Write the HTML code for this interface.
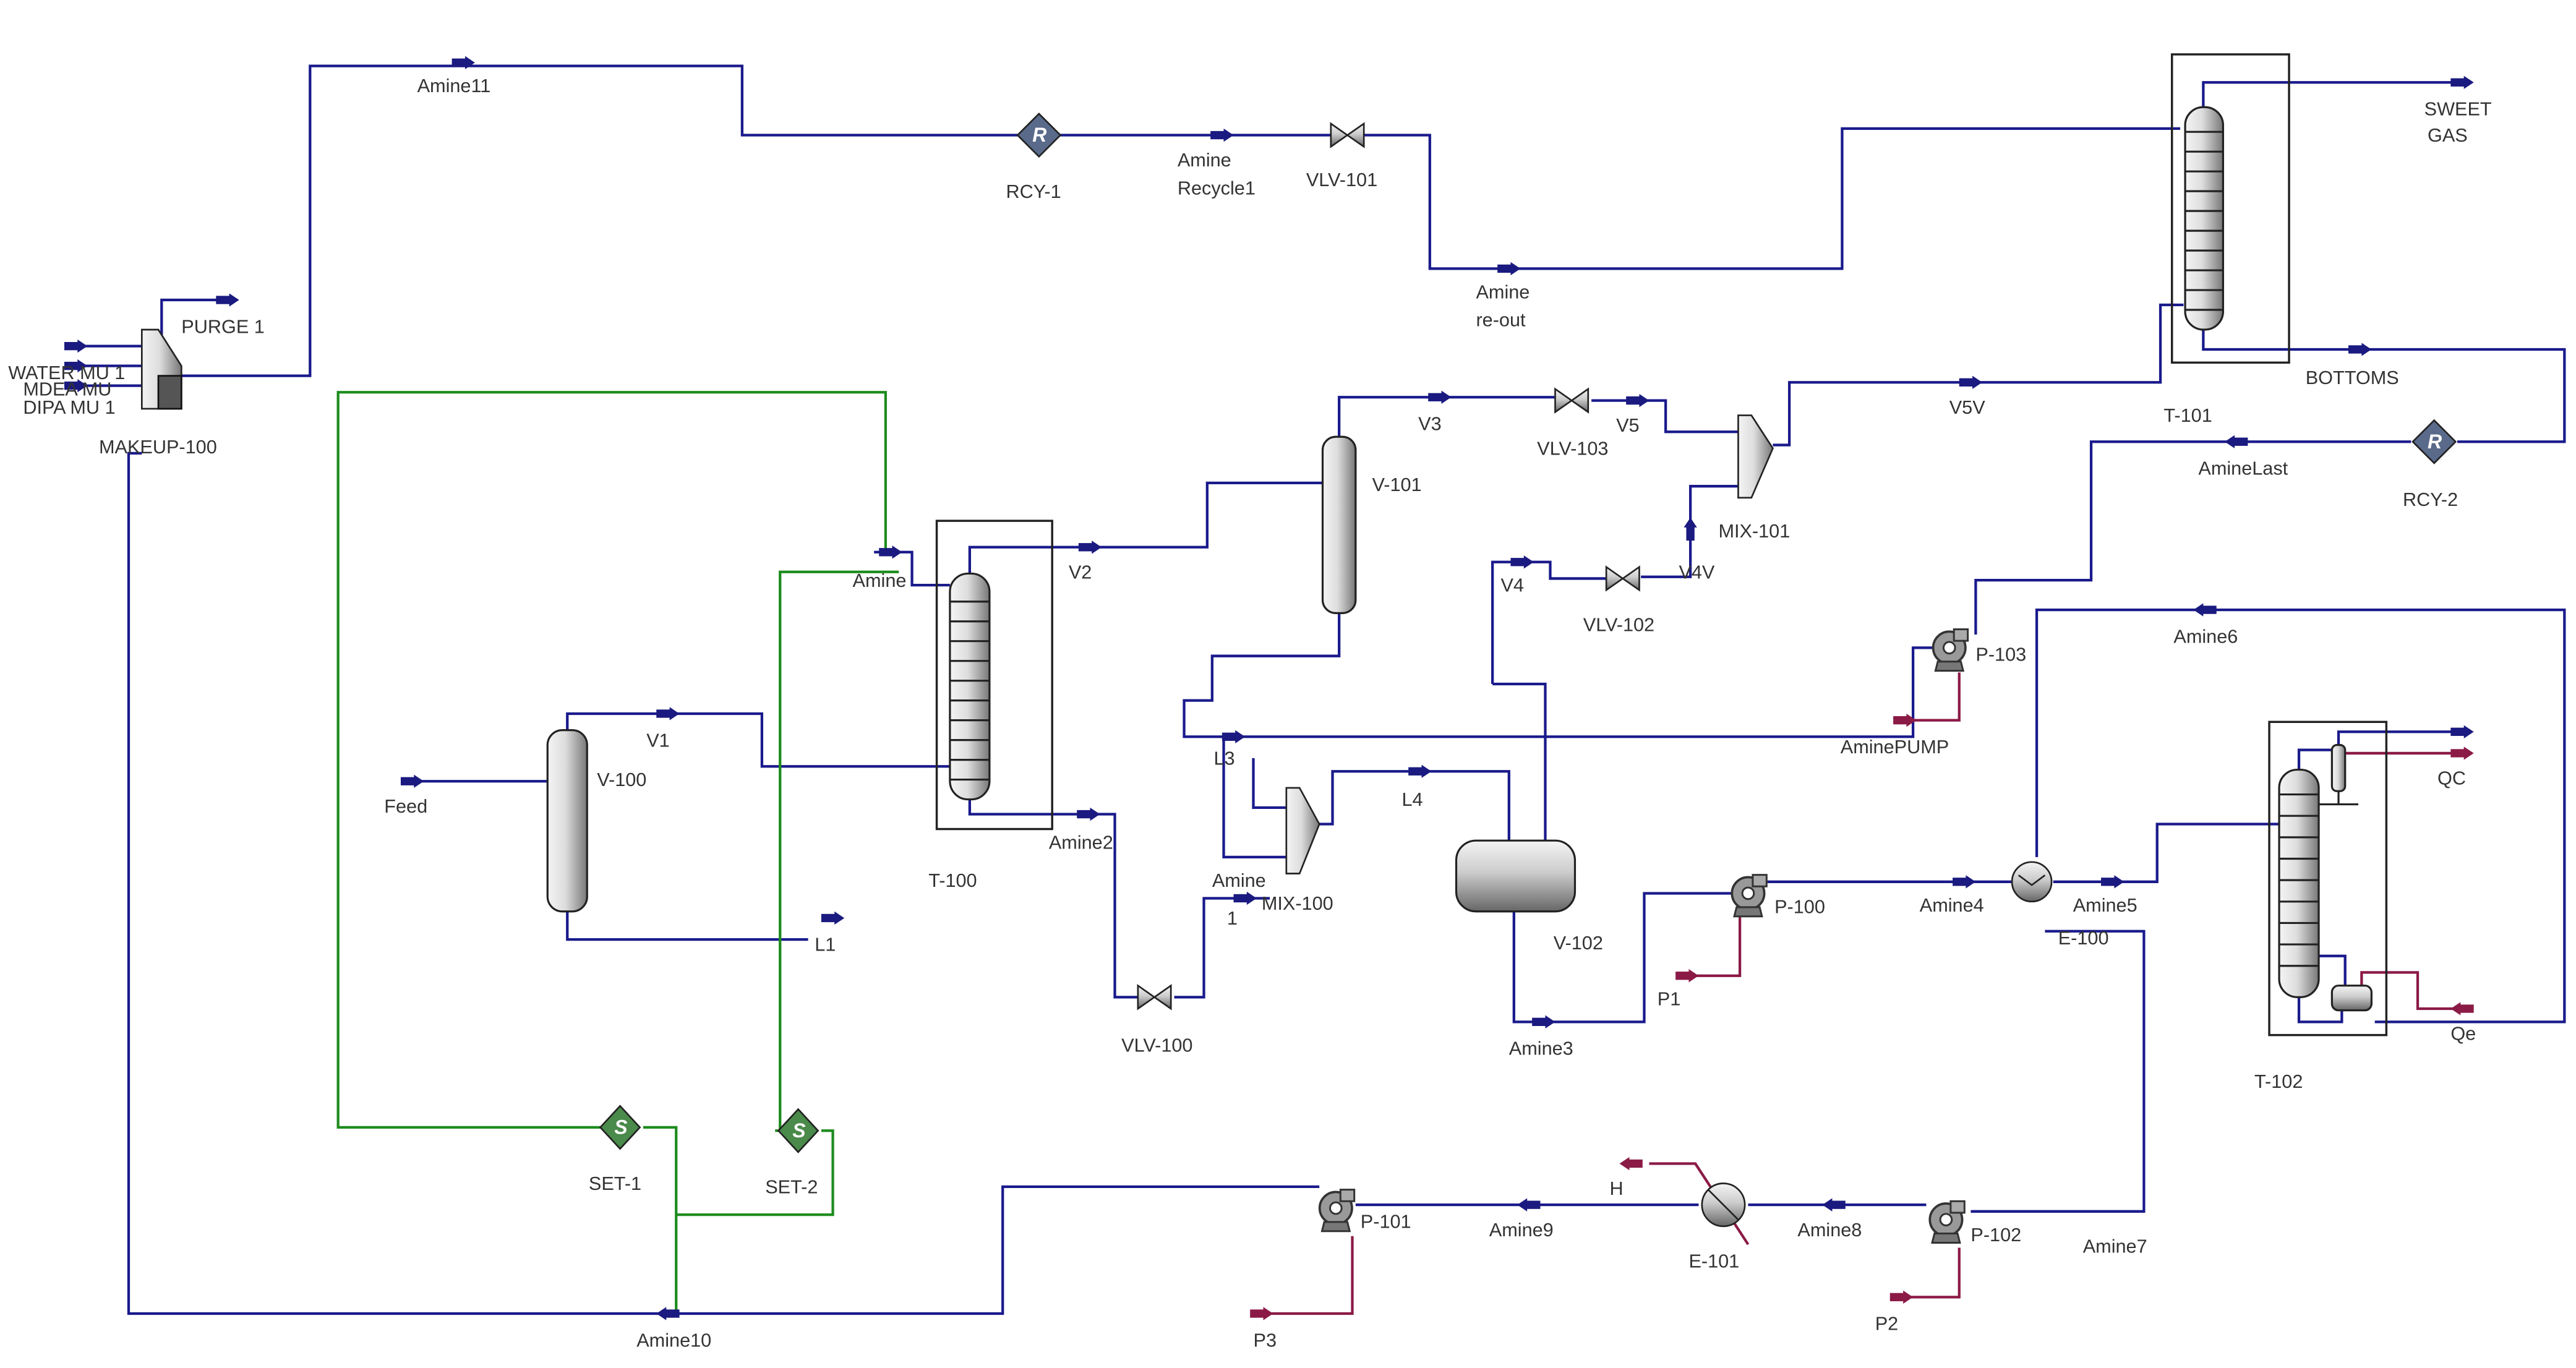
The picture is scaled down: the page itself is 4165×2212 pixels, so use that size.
<!DOCTYPE html>
<html><head><meta charset="utf-8"><style>
html,body{margin:0;padding:0;background:#fff;}
svg{display:block;}
text{font-family:"Liberation Sans",sans-serif;font-size:11.5px;fill:#333;}
</style></head><body>
<svg width="4165" height="2212" viewBox="0 0 1562 830" preserveAspectRatio="none" xmlns="http://www.w3.org/2000/svg">
<defs>
<linearGradient id="cg" x1="0" x2="1" y1="0" y2="0"><stop offset="0" stop-color="#f4f4f4"/><stop offset="0.45" stop-color="#ddd"/><stop offset="1" stop-color="#777"/></linearGradient>
<linearGradient id="hg" x1="0" x2="0" y1="0" y2="1"><stop offset="0" stop-color="#f4f4f4"/><stop offset="0.45" stop-color="#ccc"/><stop offset="1" stop-color="#666"/></linearGradient>
<g id="ar"><rect x="-8" y="-2.5" width="9" height="5" fill="#1a1a80"/><path d="M0,-4 L6,0 L0,4Z" fill="#1a1a80"/></g>
<g id="arm"><rect x="-8" y="-2.5" width="9" height="5" fill="#8b1a46"/><path d="M0,-4 L6,0 L0,4Z" fill="#8b1a46"/></g>
<g id="vlv"><path d="M-10,-7 L10,7 L10,-7 L-10,7Z" fill="url(#hg)" stroke="#222" stroke-width="1"/></g>
<g id="pump"><g transform="scale(1.4)"><circle r="7" fill="#999" stroke="#333"/><circle r="2.5" fill="#fff" stroke="#333" stroke-width="0.8"/><rect x="2" y="-8" width="6" height="5" fill="#aaa" stroke="#333" stroke-width="0.8"/><path d="M-5,6 L5,6 L6,10 L-6,10Z" fill="#777" stroke="#333" stroke-width="0.8"/></g></g>
<g id="rcy"><path d="M0,-13 L13,0 L0,13 L-13,0Z" fill="#5a6a8a" stroke="#222"/><text x="-4" y="4" style="font-style:italic;font-weight:bold;fill:#fff;font-size:12px">R</text></g>
<g id="set"><path d="M0,-13 L12,0 L0,13 L-12,0Z" fill="#4a8a4a" stroke="#222"/><text x="-3.5" y="4" style="font-style:italic;font-weight:bold;fill:#fff;font-size:12px">S</text></g>
</defs>

<g fill="none" stroke="#1a1a8c" stroke-width="1.6">
<polyline points="110,228 188,228 188,40 450,40 450,82 617,82"/>
<polyline points="643,82 807,82"/>
<polyline points="827,82 867,82 867,163 1117,163 1117,78 1322,78"/>
<polyline points="1336,66 1336,50 1488,50"/>
<polyline points="1336,200 1336,212 1555,212 1555,268 1490,268"/>
<polyline points="1462,268 1268,268 1268,352 1198,352 1198,385"/>
<polyline points="1075,270 1085,270 1085,232 1310,232 1310,185 1324,185"/>
<polyline points="812,265 812,241 943,241"/>
<polyline points="965,243 1010,243 1010,262 1054,262"/>
<polyline points="905,415 905,341 940,341 940,351 974,351"/>
<polyline points="995,350 1025,350 1025,295 1054,295"/>
<polyline points="905,415 937,415 937,510"/>
<polyline points="530,335 553,335 553,355 576,355"/>
<polyline points="588,348 588,332 732,332 732,293 802,293"/>
<polyline points="588,485 588,494 676,494 676,605 690,605"/>
<polyline points="712,605 730,605 730,545 770,545"/>
<polyline points="812,372 812,398 735,398 735,425 718,425 718,447 1160,447 1160,393 1172,393"/>
<polyline points="742,447 742,520 780,520"/>
<polyline points="760,460 760,490 780,490"/>
<polyline points="800,500 808,500 808,468 915,468 915,510"/>
<polyline points="918,553 918,620 997,620 997,542 1050,542"/>
<polyline points="1068,535 1220,535"/>
<polyline points="1245,535 1308,535 1308,500 1383,500"/>
<polyline points="1440,620 1555,620 1555,370 1235,370 1235,520"/>
<polyline points="1240,565 1300,565 1300,735 1195,735"/>
<polyline points="1168,731 1060,731"/>
<polyline points="1030,731 822,731"/>
<polyline points="800,720 608,720 608,797 78,797 78,275 86,275"/>
<polyline points="98,210 98,182 135,182"/>
<polyline points="247,474 332,474"/>
<polyline points="344,443 344,433 462,433 462,465 576,465"/>
<polyline points="344,553 344,570 490,570"/>
<polyline points="1394,467 1394,455 1414,455"/>
<polyline points="1418,452 1418,444 1490,444"/>
<polyline points="1406,580 1422,580 1422,598"/>
<polyline points="1394,605 1394,620 1420,620 1420,608"/>
<polyline points="40,210 86,210"/><polyline points="40,222 86,222"/><polyline points="40,234 86,234"/>
</g>
<g fill="none" stroke="#8b1a46" stroke-width="1.6">
<polyline points="1422,457 1490,457"/>
<polyline points="1432,600 1432,590 1466,590 1466,612 1490,612"/>
<polyline points="1150,437 1188,437 1188,408"/>
<polyline points="1018,592 1055,592 1055,555"/>
<polyline points="1148,787 1188,787 1188,757"/>
<polyline points="760,797 820,797 820,750"/>
<polyline points="1000,706 1028,706 1060,755"/>
</g>
<g fill="none" stroke="#1e8c1e" stroke-width="1.6">
<polyline points="537,335 537,238 205,238 205,684 365,684"/>
<polyline points="390,684 410,684 410,797"/>
<polyline points="545,347 473,347 473,686 470,686"/>
<polyline points="498,686 505,686 505,737 410,737"/>
</g>

<use href="#ar" x="282" y="38"/><use href="#ar" x="742" y="82"/><use href="#ar" x="916" y="163"/>
<use href="#ar" x="1494" y="50"/><use href="#ar" x="1432" y="212"/><use href="#ar" x="1196" y="232"/>
<use href="#ar" x="139" y="182"/><use href="#ar" x="874" y="241"/><use href="#ar" x="994" y="243"/>
<use href="#ar" x="924" y="341"/><use href="#ar" x="541" y="335"/><use href="#ar" x="662" y="332"/>
<use href="#ar" x="661" y="494"/><use href="#ar" x="749" y="447"/><use href="#ar" x="862" y="468"/>
<use href="#ar" x="756" y="545"/><use href="#ar" x="937" y="620"/><use href="#ar" x="1192" y="535"/>
<use href="#ar" x="1282" y="535"/><use href="#ar" x="1494" y="444"/><use href="#ar" x="251" y="474"/>
<use href="#ar" x="406" y="433"/><use href="#ar" x="506" y="557"/><use href="#ar" x="47" y="210"/>
<use href="#ar" x="47" y="222"/><use href="#ar" x="47" y="234"/>
<use href="#ar" x="0" y="0" transform="translate(1355,268) scale(-1,1)"/>
<use href="#ar" x="0" y="0" transform="translate(1336,370) scale(-1,1)"/>
<use href="#ar" x="0" y="0" transform="translate(1111,731) scale(-1,1)"/>
<use href="#ar" x="0" y="0" transform="translate(926,731) scale(-1,1)"/>
<use href="#ar" x="0" y="0" transform="translate(404,797) scale(-1,1)"/>
<use href="#ar" x="0" y="0" transform="translate(1025,320) rotate(-90)"/>
<use href="#arm" x="1156" y="437"/><use href="#arm" x="1024" y="592"/><use href="#arm" x="1154" y="787"/>
<use href="#arm" x="766" y="797"/><use href="#arm" x="1494" y="457"/>
<use href="#arm" x="0" y="0" transform="translate(988,706) scale(-1,1)"/>
<use href="#arm" x="0" y="0" transform="translate(1492,612) scale(-1,1)"/>

<rect x="1317" y="33" width="71" height="187" fill="none" stroke="#222" stroke-width="1.3"/>
<rect x="568" y="316" width="70" height="187" fill="none" stroke="#222" stroke-width="1.3"/>
<rect x="1376" y="438" width="71" height="190" fill="none" stroke="#222" stroke-width="1.3"/>

<g stroke="#222" stroke-width="1.2">
<rect x="1325" y="65" width="23" height="135" rx="11" fill="url(#cg)"/>
<rect x="576" y="348" width="24" height="137" rx="11" fill="url(#cg)"/>
<rect x="1382" y="467" width="24" height="138" rx="11" fill="url(#cg)"/>
<rect x="802" y="265" width="20" height="107" rx="8" fill="url(#cg)"/>
<rect x="332" y="443" width="24" height="110" rx="9" fill="url(#cg)"/>
<rect x="883" y="510" width="72" height="43" rx="12" fill="url(#hg)"/>
<rect x="1414" y="452" width="8" height="28" rx="3" fill="url(#cg)"/>
<rect x="1414" y="598" width="24" height="15" rx="4" fill="url(#hg)"/>
<path d="M1406,488 L1430,488 M1418,480 L1418,488" fill="none"/>
</g>
<g stroke="#222" stroke-width="1.2">
<path d="M1325,80 h23 M1325,92 h23 M1325,104 h23 M1325,116 h23 M1325,128 h23 M1325,140 h23 M1325,152 h23 M1325,164 h23 M1325,176 h23 M1325,188 h23"/>
<path d="M576,365 h24 M576,377 h24 M576,389 h24 M576,401 h24 M576,413 h24 M576,425 h24 M576,437 h24 M576,449 h24 M576,461 h24 M576,473 h24"/>
<path d="M1382,482 h24 M1382,495 h24 M1382,508 h24 M1382,521 h24 M1382,534 h24 M1382,547 h24 M1382,560 h24 M1382,573 h24 M1382,586 h24"/>
</g>
<path d="M86,200 L96,200 L110,222 L110,248 L86,248Z" fill="url(#cg)" stroke="#222"/>
<rect x="96" y="228" width="14" height="20" fill="#555" stroke="#111"/>
<path d="M780,478 L788,478 L800,500 L788,530 L780,530Z" fill="url(#cg)" stroke="#222"/>
<path d="M1054,252 L1062,252 L1075,272 L1062,302 L1054,302Z" fill="url(#cg)" stroke="#222"/>
<use href="#vlv" x="817" y="82"/><use href="#vlv" x="953" y="243"/><use href="#vlv" x="984" y="351"/><use href="#vlv" x="700" y="605"/>
<use href="#pump" x="1182" y="393"/><use href="#pump" x="1060" y="542"/><use href="#pump" x="1180" y="740"/><use href="#pump" x="810" y="733"/>
<use href="#rcy" x="630" y="82"/><use href="#rcy" x="1476" y="268"/>
<use href="#set" x="376" y="684"/><use href="#set" x="484" y="686"/>
<circle cx="1232" cy="535" r="12" fill="url(#hg)" stroke="#222"/><path d="M1224,531 l8,6 l8,-6" fill="none" stroke="#222"/>
<circle cx="1045" cy="731" r="13" fill="url(#hg)" stroke="#222"/><path d="M1036,722 L1054,740" stroke="#222"/>

<text x="253" y="56">Amine11</text>
<text x="610" y="120">RCY-1</text>
<text x="714" y="101">Amine</text><text x="714" y="118">Recycle1</text>
<text x="792" y="113">VLV-101</text>
<text x="895" y="181">Amine</text><text x="895" y="198">re-out</text>
<text x="1470" y="70">SWEET</text><text x="1472" y="86">GAS</text>
<text x="1312" y="256">T-101</text>
<text x="1398" y="233">BOTTOMS</text>
<text x="1333" y="288">AmineLast</text>
<text x="1457" y="307">RCY-2</text>
<text x="1182" y="251">V5V</text>
<text x="110" y="202">PURGE 1</text>
<text x="5" y="230">WATER MU 1</text><text x="14" y="240">MDEA MU</text><text x="14" y="251">DIPA MU 1</text>
<text x="60" y="275">MAKEUP-100</text>
<text x="860" y="261">V3</text><text x="932" y="276">VLV-103</text><text x="980" y="262">V5</text>
<text x="832" y="298">V-101</text>
<text x="1042" y="326">MIX-101</text>
<text x="910" y="359">V4</text><text x="960" y="383">VLV-102</text><text x="1018" y="351">V4V</text>
<text x="517" y="356">Amine</text>
<text x="648" y="351">V2</text>
<text x="1198" y="401">P-103</text>
<text x="1318" y="390">Amine6</text>
<text x="1116" y="457">AminePUMP</text>
<text x="736" y="464">L3</text>
<text x="392" y="453">V1</text><text x="362" y="477">V-100</text>
<text x="233" y="493">Feed</text>
<text x="850" y="489">L4</text>
<text x="636" y="515">Amine2</text>
<text x="735" y="538">Amine</text><text x="744" y="561">1</text>
<text x="765" y="552">MIX-100</text>
<text x="563" y="538">T-100</text>
<text x="494" y="577">L1</text>
<text x="942" y="576">V-102</text>
<text x="1076" y="554">P-100</text>
<text x="1164" y="553">Amine4</text>
<text x="1257" y="553">Amine5</text>
<text x="1248" y="573">E-100</text>
<text x="1478" y="476">QC</text>
<text x="1486" y="631">Qe</text>
<text x="1005" y="610">P1</text>
<text x="680" y="638">VLV-100</text>
<text x="915" y="640">Amine3</text>
<text x="1367" y="660">T-102</text>
<text x="357" y="722">SET-1</text><text x="464" y="724">SET-2</text>
<text x="976" y="725">H</text>
<text x="825" y="745">P-101</text>
<text x="903" y="750">Amine9</text>
<text x="1090" y="750">Amine8</text>
<text x="1195" y="753">P-102</text>
<text x="1024" y="769">E-101</text>
<text x="1263" y="760">Amine7</text>
<text x="1137" y="807">P2</text>
<text x="760" y="817">P3</text>
<text x="386" y="817">Amine10</text>
</svg>
</body></html>
